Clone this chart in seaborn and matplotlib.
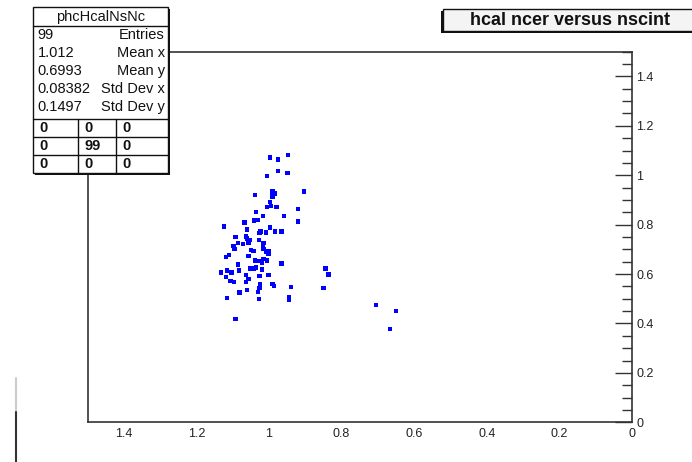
import numpy as np
import pandas as pd
import seaborn as sns
import matplotlib.pyplot as plt
from matplotlib.patches import Rectangle
from matplotlib.ticker import MultipleLocator, FixedLocator

# values (x axis runs right-to-left, 0 at the right)
nscint = [0.998, 0.976, 0.947, 0.976, 0.949, 1.006, 1.038, 0.990, 0.984, 0.990,
          0.903, 0.998, 1.006, 0.995, 0.979, 0.920, 1.035, 1.017, 0.958, 1.041,
          1.031, 1.068, 0.920, 1.124, 0.998, 1.060, 1.023, 1.026, 1.009, 0.984,
          0.966, 1.092, 1.064, 1.060, 1.052, 1.027, 1.085, 1.071, 1.057, 1.015,
          1.098, 1.095, 1.017, 1.049, 1.043, 1.015, 1.007, 1.001, 1.001, 1.110,
          1.119, 1.057, 1.015, 1.038, 1.028, 1.020, 1.006, 0.966, 1.085, 1.052,
          1.043, 1.035, 1.019, 1.082, 1.116, 1.133, 1.103, 0.844, 0.836, 1.063,
          1.026, 1.001, 1.119, 1.106, 1.096, 1.057, 1.063, 0.990, 0.986, 1.024,
          1.026, 0.939, 0.850, 1.060, 1.030, 1.081, 0.945, 0.945, 1.116, 1.028,
          1.092, 0.705, 0.650, 0.667]
ncer = [1.072, 1.064, 1.082, 1.017, 1.009, 0.997, 0.919, 0.934, 0.926, 0.914,
        0.934, 0.891, 0.871, 0.876, 0.871, 0.863, 0.852, 0.836, 0.836, 0.816,
        0.820, 0.808, 0.812, 0.792, 0.788, 0.780, 0.773, 0.765, 0.769, 0.773,
        0.773, 0.749, 0.752, 0.744, 0.737, 0.737, 0.725, 0.721, 0.728, 0.725,
        0.713, 0.701, 0.709, 0.698, 0.694, 0.701, 0.689, 0.694, 0.681, 0.678,
        0.669, 0.674, 0.662, 0.655, 0.653, 0.647, 0.655, 0.643, 0.639, 0.623,
        0.623, 0.627, 0.619, 0.615, 0.615, 0.607, 0.607, 0.623, 0.599, 0.595,
        0.591, 0.596, 0.588, 0.572, 0.567, 0.580, 0.567, 0.560, 0.552, 0.558,
        0.544, 0.548, 0.544, 0.536, 0.528, 0.526, 0.508, 0.495, 0.502, 0.498,
        0.418, 0.475, 0.451, 0.377]

major_ticks = [0, 0.2, 0.4, 0.6, 0.8, 1.0, 1.2, 1.4]
tick_labels = ["0", "0.2", "0.4", "0.6", "0.8", "1", "1.2", "1.4"]

hist_name = "phcHcalNsNc"
stat_names = ["Entries", "Mean x", "Mean y", "Std Dev x", "Std Dev y"]
stat_values = ["99", "1.012", "0.6993", "0.08382", "0.1497"]
grid_counts = [["0", "0", "0"], ["0", "99", "0"], ["0", "0", "0"]]
title = "hcal ncer versus nscint"

df = pd.DataFrame({"nscint": nscint, "ncer": ncer})

sns.set_style("white")
plt.rcParams['font.family'] = ['Liberation Sans', 'DejaVu Sans']

W, H = 692, 462
fig = plt.figure(figsize=(W / 100, H / 100), dpi=100)
x0, x1, ytop, ybot = 87.5, 632, 51.7, 422.3
ax = fig.add_axes([x0 / W, (H - ybot) / H, (x1 - x0) / W, (ybot - ytop) / H])

sns.scatterplot(data=df, x="nscint", y="ncer", ax=ax, marker='s', s=10,
                color='#0000ff', edgecolor='none', linewidth=0)

ax.set_xlim(1.5, 0)
ax.set_ylim(0, 1.5)
ax.set_xlabel('')
ax.set_ylabel('')
ax.yaxis.tick_right()
ax.xaxis.set_major_locator(FixedLocator(major_ticks))
ax.yaxis.set_major_locator(FixedLocator(major_ticks))
ax.set_xticklabels(tick_labels)
ax.set_yticklabels(tick_labels)
ax.xaxis.set_minor_locator(MultipleLocator(0.05))
ax.yaxis.set_minor_locator(MultipleLocator(0.05))
ax.tick_params(axis='x', which='major', direction='in', length=8, width=1,
               color='#333333', labelsize=9, pad=4, labelcolor='#222222')
ax.tick_params(axis='x', which='minor', direction='in', length=5, width=1, color='#333333')
ax.tick_params(axis='y', which='major', direction='in', length=12, width=1,
               color='#333333', labelsize=9, pad=3, labelcolor='#222222',
               left=False, right=True)
ax.tick_params(axis='y', which='minor', direction='in', length=7, width=1,
               color='#333333', left=False, right=True)
for sp in ax.spines.values():
    sp.set_visible(True)
    sp.set_color('#333333')
    sp.set_linewidth(1.2)

# overlay in pixel coordinates for the boxes
ov = fig.add_axes([0, 0, 1, 1], zorder=5)
ov.set_xlim(0, W)
ov.set_ylim(H, 0)
ov.axis('off')
ov.patch.set_alpha(0)

# stats box
bl, br, bt, bb = 32.5, 168, 7, 173
fs = 10.5
ov.add_patch(Rectangle((bl + 2, bt + 2), br - bl, bb - bt, facecolor='#111111', edgecolor='none'))
ov.add_patch(Rectangle((bl, bt), br - bl, bb - bt, facecolor='white', edgecolor='#111111', lw=1))
ov.text((bl + br) / 2, 17, hist_name, ha='center', va='center', fontsize=fs, color='#111111')
ov.plot([bl, br], [26, 26], color='#111111', lw=1)
for i, (nm, val) in enumerate(zip(stat_names, stat_values)):
    yy = 35 + 18 * i
    ov.text(br - 3, yy, nm, ha='right', va='center', fontsize=fs, color='#111111')
    ov.text(bl + 5, yy, val, ha='left', va='center', fontsize=fs, color='#111111')
col_edges = [bl, 77.7, 115.7, br]
row_edges = [119, 137, 155, bb]
for yy in row_edges[:-1]:
    ov.plot([bl, br], [yy, yy], color='#111111', lw=1)
for xx in col_edges[1:-1]:
    ov.plot([xx, xx], [row_edges[0], bb], color='#111111', lw=1)
for r, row in enumerate(grid_counts):
    for c, v in enumerate(row):
        ov.text(col_edges[c] + 7, (row_edges[r] + row_edges[r + 1]) / 2, v,
                ha='left', va='center', fontsize=fs, fontweight='bold', color='#111111')

# title box
tl, tt, tb = 443, 9, 31
ov.add_patch(Rectangle((tl - 2, tt + 2), 260, tb - tt, facecolor='#111111', edgecolor='none'))
ov.add_patch(Rectangle((tl, tt), 260, tb - tt, facecolor='#f4f4f4', edgecolor='#111111', lw=1))
ov.text(570, 20.5, title, ha='center', va='center', fontsize=13, fontweight='bold', color='#111111')

# edge artefact on the far left of the screenshot
ov.plot([16, 16], [378, 412], color='#cccccc', lw=1.5)
ov.plot([16, 16], [412, 462], color='#333333', lw=1.5)

fig.savefig('out.png', dpi=100)
